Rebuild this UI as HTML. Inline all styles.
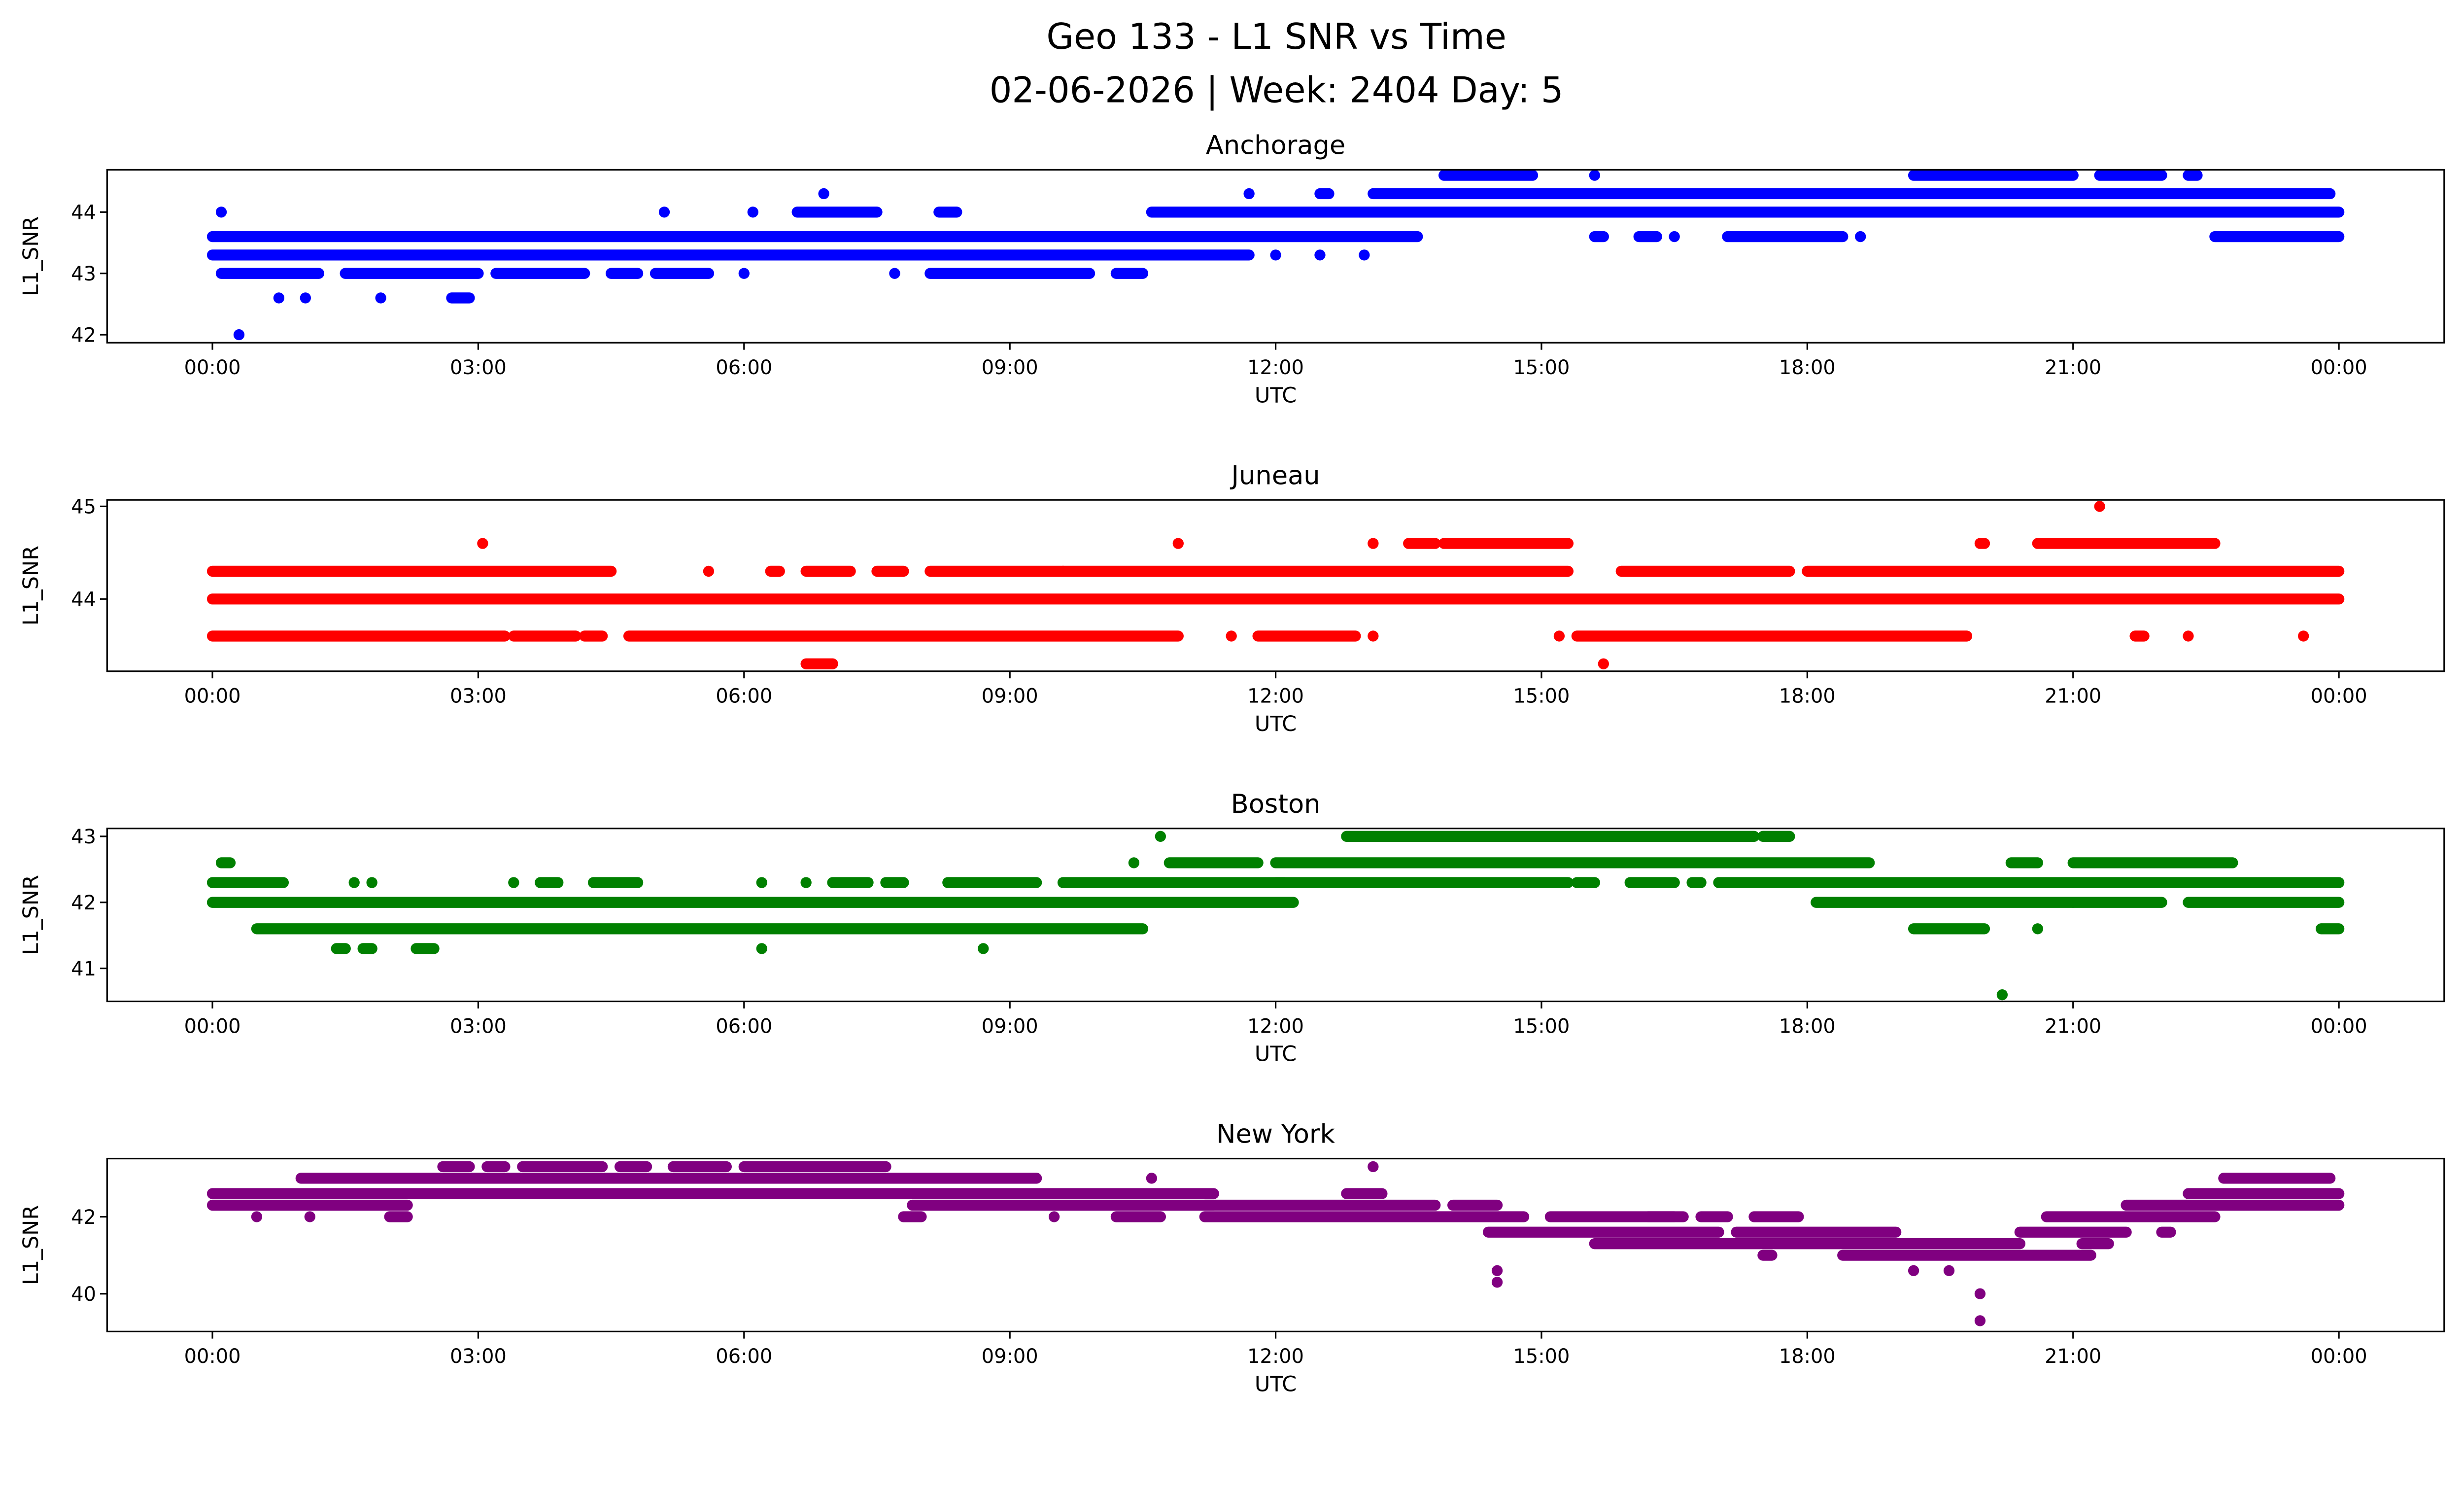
<!DOCTYPE html>
<html><head><meta charset="utf-8"><style>
html,body{margin:0;padding:0;background:#fff;overflow:hidden;width:5225px;height:3033px;}
svg{display:block;font-family:"DejaVu Sans","Liberation Sans",sans-serif;}
</style></head><body>
<svg id="fig" width="5225" height="3033" viewBox="0 0 1638 951" xmlns="http://www.w3.org/2000/svg">
<rect width="1638" height="951" fill="#fff"/>
<text x="812" y="31" font-size="22.5" text-anchor="middle">Geo 133 - L1 SNR vs Time</text>
<text x="812" y="65" font-size="22.5" text-anchor="middle">02-06-2026 | Week: 2404 Day: 5</text>
<g id="plots"></g>
</svg>
<script>
// Anchorage runs: [startHour, endHour] at SNR value
const anchStart = [0,15.6,16.1,16.5,17.1,18.6,22.6, 0,12,12.5,13, 0.1,1.5,3.2,4.5,5,6,7.7,8.1,10.2, 0.75,1.05,1.9,2.7, 0.3, 0.1,5.1,6.1,6.6,8.2,10.6, 6.9,11.7,12.5,13.1, 13.9,15.6,19.2,21.3,22.3];
const anchEnd   = [13.6,15.7,16.3,16.5,18.4,18.6,24, 11.7,12,12.5,13, 1.2,3.0,4.2,4.8,5.6,6,7.7,9.9,10.5, 0.75,1.05,1.9,2.9, 0.3, 0.1,5.1,6.1,7.5,8.4,24, 6.9,11.7,12.6,23.9, 14.9,15.6,21.0,22.0,22.4];
const anchVal   = [43.6,43.6,43.6,43.6,43.6,43.6,43.6, 43.3,43.3,43.3,43.3, 43,43,43,43,43,43,43,43,43, 42.6,42.6,42.6,42.6, 42, 44,44,44,44,44,44, 44.3,44.3,44.3,44.3, 44.6,44.6,44.6,44.6,44.6];

const junStart = [0, 0,5.6,6.3,6.7,7.5,8.1,9.6,15.9,18.0, 0,3.4,4.2,4.7,11.5,11.8,13.1,15.2,15.4,21.7,22.3,23.6, 6.7,15.7, 3.05,10.9,13.1,13.5,13.9,19.95,20.6, 21.3];
const junEnd   = [24, 4.5,5.6,6.4,7.2,7.8,9.6,15.3,17.8,24, 3.3,4.1,4.4,10.9,11.5,12.9,13.1,15.2,19.8,21.8,22.3,23.6, 7.0,15.7, 3.05,10.9,13.1,13.8,15.3,20.0,22.6, 21.3];
const junVal   = [44, 44.3,44.3,44.3,44.3,44.3,44.3,44.3,44.3,44.3, 43.6,43.6,43.6,43.6,43.6,43.6,43.6,43.6,43.6,43.6,43.6,43.6, 43.3,43.3, 44.6,44.6,44.6,44.6,44.6,44.6,44.6, 45];

const bosStart = [0,18.1,21.0,22.3, 0,1.6,1.8,3.4,3.7,4.3,6.2,6.7,7.0,7.6,8.3,9.6,12.0,15.4,16.0,16.7,17.0, 0.1,10.4,10.8,12,20.3,21.0, 10.7,12.8,17.5, 0.5,19.2,20.6,23.8, 1.4,1.7,2.3,6.2,8.7, 20.2];
const bosEnd   = [12.2,21.0,22.0,24, 0.8,1.6,1.8,3.4,3.9,4.8,6.2,6.7,7.4,7.8,9.3,12.1,15.3,15.6,16.5,16.8,24, 0.2,10.4,11.8,18.7,20.6,22.8, 10.7,17.4,17.8, 10.5,20.0,20.6,24, 1.5,1.8,2.5,6.2,8.7, 20.2];
const bosVal   = [42,42,42,42, 42.3,42.3,42.3,42.3,42.3,42.3,42.3,42.3,42.3,42.3,42.3,42.3,42.3,42.3,42.3,42.3,42.3, 42.6,42.6,42.6,42.6,42.6,42.6, 43,43,43, 41.6,41.6,41.6,41.6, 41.3,41.3,41.3,41.3,41.3, 40.6];

const nyStart = [0,7.9,11.2,14.0,21.6, 0,12.8,22.3, 1.0,10.6,22.7, 2.6,3.1,3.5,4.6,5.2,6.0,13.1, 0.5,1.1,2.0,7.8,9.5,10.2,11.2,15.1,16.2,16.8,17.4,20.7, 14.4,17.2,20.4,22.0, 15.6,21.1, 17.5,18.4, 14.5,19.2,19.6,14.5,19.95,19.95];
const nyEnd   = [2.2,11.3,13.8,14.5,24, 11.3,13.2,24, 9.3,10.6,23.9, 2.9,3.3,4.4,4.9,5.8,7.6,13.1, 0.5,1.1,2.2,8.0,9.5,10.7,14.8,16.5,16.6,17.1,17.9,22.6, 17.0,19.0,21.6,22.1, 20.4,21.4, 17.6,21.2, 14.5,19.2,19.6,14.5,19.95,19.95];
const nyVal   = [42.3,42.3,42.3,42.3,42.3, 42.6,42.6,42.6, 43,43,43, 43.3,43.3,43.3,43.3,43.3,43.3,43.3, 42,42,42,42,42,42,42,42,42,42,42,42, 41.6,41.6,41.6,41.6, 41.3,41.3, 41,41, 40.6,40.6,40.6,40.3,40,39.3];

const xTickHours = [0,3,6,9,12,15,18,21,24];
const xTickLabels = ["00:00","03:00","06:00","09:00","12:00","15:00","18:00","21:00","00:00"];

const panels = [
 {name:"Anchorage", color:"#0000ff", top:108, bottom:218, ymin:41.87, ymax:44.69, ticks:[42,43,44], s:anchStart, e:anchEnd, v:anchVal},
 {name:"Juneau", color:"#ff0000", top:318, bottom:427, ymin:43.22, ymax:45.07, ticks:[44,45], s:junStart, e:junEnd, v:junVal},
 {name:"Boston", color:"#008000", top:527, bottom:637, ymin:40.5, ymax:43.12, ticks:[41,42,43], s:bosStart, e:bosEnd, v:bosVal},
 {name:"New York", color:"#800080", top:737, bottom:847, ymin:39.02, ymax:43.51, ticks:[40,42], s:nyStart, e:nyEnd, v:nyVal}
];
const L=68, R=1555, X0=135, X24=1488;
const NS="http://www.w3.org/2000/svg";
const root=document.getElementById('plots');
function mk(tag,attrs,parent){const el=document.createElementNS(NS,tag);for(const k in attrs)el.setAttribute(k,attrs[k]);parent.appendChild(el);return el;}
function xs(h){return X0+(X24-X0)*h/24;}
panels.forEach(p=>{
  const slug=p.name.toLowerCase().replace(/ /g,'-');
  const g=mk('g',{},root);
  
  
  const ys=v=>p.bottom-(v-p.ymin)/(p.ymax-p.ymin)*(p.bottom-p.top);
  const t=mk('text',{x:(L+R)/2,y:p.top-10,'font-size':16.5,'text-anchor':'middle'},g);
  t.textContent=p.name;
  
  
  const marks=mk('g',{},g);
  
  
  for(let i=0;i<p.v.length;i++){
    const y=ys(p.v[i]);
    let m;
    if(p.s[i]===p.e[i]){
      m=mk('circle',{cx:xs(p.s[i]),cy:y,r:3.5,fill:p.color},marks);
    } else {
      m=mk('line',{x1:xs(p.s[i]),x2:xs(p.e[i]),y1:y,y2:y,stroke:p.color,'stroke-width':7,'stroke-linecap':'round'},marks);
    }
    
    
  }
  const fr=mk('rect',{x:L,y:p.top,width:R-L,height:p.bottom-p.top,fill:'none',stroke:'#000','stroke-width':1},g);
  
  
  xTickHours.forEach((h,i)=>{
    const x=xs(h);
    mk('line',{x1:x,x2:x,y1:p.bottom,y2:p.bottom+4.5,stroke:'#000','stroke-width':1},g);
    const tl=mk('text',{x:x,y:p.bottom+20,'font-size':12.5,'text-anchor':'middle'},g);
    tl.textContent=xTickLabels[i];
    
    
  });
  p.ticks.forEach(v=>{
    const y=ys(v);
    mk('line',{x1:L-4.5,x2:L,y1:y,y2:y,stroke:'#000','stroke-width':1},g);
    const tl=mk('text',{x:L-7,y:y+4.5,'font-size':12.5,'text-anchor':'end'},g);
    tl.textContent=String(v);
    
    
  });
  const xl=mk('text',{x:(L+R)/2,y:p.bottom+38,'font-size':13.5,'text-anchor':'middle'},g);
  xl.textContent='UTC';
  
  
  const cy=(p.top+p.bottom)/2;
  const yl=mk('text',{x:0,y:0,'font-size':13.5,'text-anchor':'middle',transform:`translate(24,${cy}) rotate(-90)`},g);
  yl.textContent='L1_SNR';
  
  
});
</script>
</body></html>
